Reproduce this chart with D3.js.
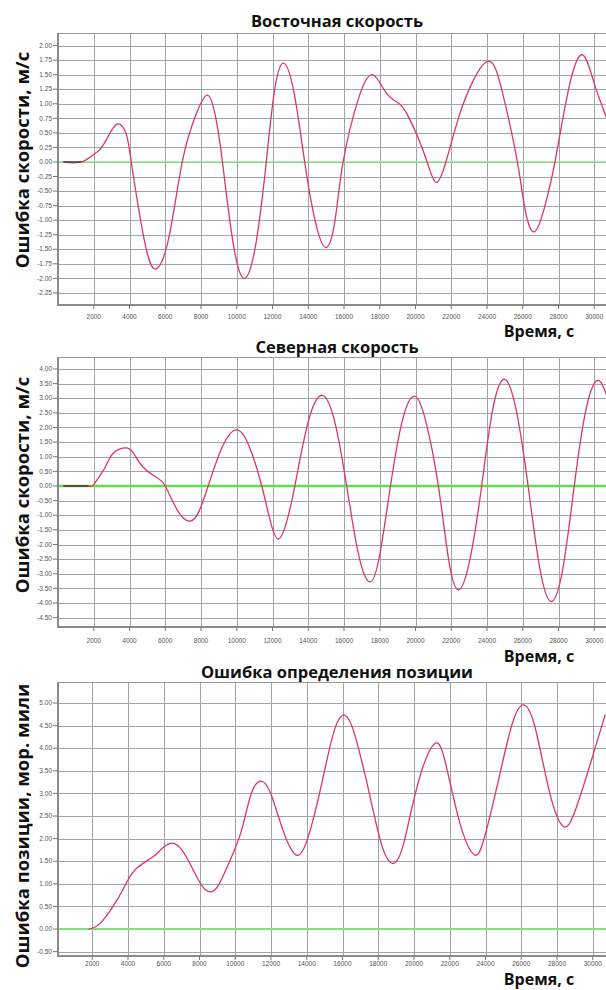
<!DOCTYPE html>
<html lang="ru">
<head>
<meta charset="utf-8">
<title>Ошибки</title>
<script src="https://cdn.jsdelivr.net/npm/d3@7"></script>
<style>
  body { margin: 0; background: #fff; }
  svg text { font-family: "Open Sans", "Liberation Sans", sans-serif; }
  .tick-label { font-family: "Liberation Sans", Arial, sans-serif !important; font-size: 6.5px; fill: #555; }
  .title { font-weight: 700; font-size: 16.5px; fill: #111; }
  .ylab { font-weight: 700; font-size: 18.5px; fill: #111; }
  .xlab { font-weight: 700; font-size: 16px; fill: #111; }
</style>
</head>
<body>
<script>

// ---- data ----
var xTicks = [2000, 4000, 6000, 8000, 10000, 12000, 14000, 16000, 18000, 20000, 22000, 24000, 26000, 28000, 30000];

// east velocity error, m/s
var eastT = [300, 1300, 2000, 2300, 2700, 3300, 3800, 4100, 4800, 5450, 6200, 6950, 7700, 8350, 8800, 9200, 9800, 10450, 11100, 11650, 12100, 12600, 13200, 13800, 14400, 15000, 15500, 15950, 16800, 17600, 18400, 19100, 19600, 20100, 20650, 21150, 21700, 22400, 23200, 24150, 24900, 25700, 26150, 26650, 27200, 27800, 28600, 29350, 30000, 30700];
var eastV = [0, 0, 0.13, 0.2, 0.38, 0.65, 0.5, 0, -1.3, -1.84, -1.3, 0, 0.8, 1.15, 0.8, 0, -1.4, -2.0, -1.35, 0, 1.2, 1.70, 1.2, 0, -1.03, -1.47, -1.0, 0, 1.08, 1.50, 1.17, 1.0, 0.78, 0.45, 0, -0.35, 0, 0.75, 1.38, 1.73, 1.15, 0, -0.85, -1.2, -0.8, 0, 1.3, 1.84, 1.35, 0.75];
var eastTicks = [2.00, 1.75, 1.50, 1.25, 1.00, 0.75, 0.50, 0.25, 0.00, -0.25, -0.50, -0.75, -1.00, -1.25, -1.50, -1.75, -2.00, -2.25];

// north velocity error, m/s
var northT = [300, 1700, 2000, 2600, 3100, 3850, 4300, 4750, 5500, 6000, 6700, 7400, 7900, 8400, 9200, 10000, 10700, 11400, 11900, 12350, 12800, 13250, 14000, 14800, 15500, 16150, 16800, 17450, 18000, 18600, 19250, 19950, 20600, 21280, 21850, 22400, 23050, 23700, 24300, 24970, 25650, 26300, 26950, 27600, 28250, 28880, 29500, 30150, 30700];
var northV = [0, 0, 0.05, 0.6, 1.13, 1.30, 1.05, 0.65, 0.3, 0, -0.85, -1.2, -0.85, 0, 1.35, 1.92, 1.35, 0, -1.25, -1.81, -1.2, 0, 2.2, 3.1, 2.15, 0, -2.3, -3.28, -2.35, 0, 2.2, 3.07, 2.15, 0, -2.5, -3.55, -2.5, 0, 2.55, 3.65, 2.55, 0, -2.8, -3.95, -2.8, 0, 2.5, 3.6, 3.1];
var northTicks = [4.00, 3.50, 3.00, 2.50, 2.00, 1.50, 1.00, 0.50, 0.00, -0.50, -1.00, -1.50, -2.00, -2.50, -3.00, -3.50, -4.00, -4.50];

// position error, nautical miles
var posT = [1800, 2200, 2700, 3400, 3950, 4500, 5400, 5900, 6450, 7100, 7850, 8300, 8650, 9100, 9850, 10400, 10900, 11450, 12000, 12700, 13450, 14100, 14800, 15500, 16100, 16700, 17500, 18200, 18800, 19400, 20200, 21150, 21800, 22600, 23350, 23900, 24700, 25500, 26150, 26800, 27600, 28350, 29000, 29900, 30700];
var posV = [0, 0.05, 0.24, 0.65, 1.05, 1.35, 1.6, 1.78, 1.9, 1.7, 1.15, 0.88, 0.82, 1.0, 1.65, 2.25, 3.0, 3.27, 2.98, 2.15, 1.63, 2.06, 3.15, 4.34, 4.73, 4.28, 3.0, 1.85, 1.45, 1.86, 3.19, 4.1, 3.61, 2.3, 1.65, 1.97, 3.25, 4.55, 4.96, 4.42, 3.0, 2.27, 2.6, 3.7, 4.75];
var posTicks = [5.00, 4.50, 4.00, 3.50, 3.00, 2.50, 2.00, 1.50, 1.00, 0.50, 0.00, -0.50];

var titles = ["Восточная скорость", "Северная скорость", "Ошибка определения позиции"];
var yLabels = ["Ошибка скорости, м/с", "Ошибка скорости, м/с", "Ошибка позиции, мор. мили"];
var xLabel = "Время, с";

// ---- layout ----
var svg = d3.select("body").append("svg")
    .attr("width", 606)
    .attr("height", 990);

var panels = [
  { t: eastT,  v: eastV,  ticks: eastTicks,  dom: [-2.457, 2.216], top: 33,  bottom: 305, x0: 58,   titleY: 27,  tickY: 319, xlabY: 337, ylabC: 160, green: "#8ee58e", gw: 1.3, idle: 1300 },
  { t: northT, v: northV, ticks: northTicks, dom: [-4.82, 4.41],   top: 357, bottom: 627, x0: 58,   titleY: 353, tickY: 643, xlabY: 662, ylabC: 485, green: "#5ee04a", gw: 2.4, idle: 1700 },
  { t: posT,   v: posV,   ticks: posTicks,   dom: [-0.597, 5.465], top: 682, bottom: 956, x0: 56.5, titleY: 678, tickY: 966, xlabY: 985, ylabC: 826, green: "#7fe27f", gw: 2,   idle: 0 }
];

var left = 59, right = 606;

panels.forEach(function(p, i) {

  var x = d3.scaleLinear().domain([0, 2000]).range([p.x0, p.x0 + 35.75]);
  var y = d3.scaleLinear().domain(p.dom).range([p.bottom, p.top]);

  var g = svg.append("g");

  // grid
  g.selectAll("line.hgrid")
    .data(p.ticks)
    .enter().append("line")
    .attr("x1", left).attr("x2", right)
    .attr("y1", function(d) { return Math.round(y(d)) + 0.5; })
    .attr("y2", function(d) { return Math.round(y(d)) + 0.5; })
    .attr("stroke", "#a3a3a3").attr("stroke-width", 1);

  g.selectAll("line.vgrid")
    .data(xTicks)
    .enter().append("line")
    .attr("x1", function(d) { return Math.round(x(d)) + 0.5; })
    .attr("x2", function(d) { return Math.round(x(d)) + 0.5; })
    .attr("y1", p.top).attr("y2", p.bottom)
    .attr("stroke", "#a3a3a3").attr("stroke-width", 1);

  // frame top + left axis
  g.append("line").attr("x1", left).attr("x2", right).attr("y1", p.top + 0.5).attr("y2", p.top + 0.5)
    .attr("stroke", "#999");
  g.append("line").attr("x1", left - 1).attr("x2", left - 1).attr("y1", p.top).attr("y2", p.bottom)
    .attr("stroke", "#8a8a8a").attr("stroke-width", 2);
  // bottom axis
  g.append("line").attr("x1", left - 2).attr("x2", right).attr("y1", p.bottom).attr("y2", p.bottom)
    .attr("stroke", "#8a8a8a").attr("stroke-width", 2);

  // y ticks
  g.selectAll("line.ytick")
    .data(p.ticks)
    .enter().append("line")
    .attr("x1", left - 6).attr("x2", left - 1)
    .attr("y1", function(d) { return y(d); }).attr("y2", function(d) { return y(d); })
    .attr("stroke", "#777");
  g.selectAll("text.ylab")
    .data(p.ticks)
    .enter().append("text")
    .attr("class", "tick-label")
    .attr("x", left - 7)
    .attr("y", function(d) { return y(d) + 2.2; })
    .attr("text-anchor", "end")
    .text(function(d) { return d3.format(".2f")(d).replace("−", "-"); });

  // x ticks
  g.selectAll("line.xtick")
    .data(xTicks)
    .enter().append("line")
    .attr("x1", function(d) { return x(d); }).attr("x2", function(d) { return x(d); })
    .attr("y1", p.bottom).attr("y2", p.bottom + 4)
    .attr("stroke", "#777");
  g.selectAll("text.xl")
    .data(xTicks)
    .enter().append("text")
    .attr("class", "tick-label")
    .attr("x", function(d) { return x(d); })
    .attr("y", p.tickY)
    .attr("text-anchor", "middle")
    .text(function(d) { return d; });

  // zero line
  g.append("line")
    .attr("x1", left).attr("x2", right)
    .attr("y1", y(0)).attr("y2", y(0))
    .attr("stroke", p.green).attr("stroke-width", p.gw);

  // curve
  var pts = p.t.map(function(t, k) { return [t, p.v[k]]; });
  var line = d3.line()
    .x(function(d) { return x(d[0]); })
    .y(function(d) { return y(d[1]); })
    .curve(d3.curveNatural);

  g.append("clipPath").attr("id", "clip" + i)
    .append("rect").attr("x", left).attr("y", p.top).attr("width", right - left).attr("height", p.bottom - p.top);

  g.append("path")
    .datum(pts)
    .attr("d", line)
    .attr("fill", "none")
    .attr("stroke", "#dc3763")
    .attr("stroke-width", 1.3)
    .attr("clip-path", "url(#clip" + i + ")");

  // dark flat start before the error grows
  if (p.idle) {
    g.append("path")
      .datum(pts.filter(function(d) { return d[0] <= p.idle; }))
      .attr("d", line.curve(d3.curveLinear))
      .attr("fill", "none")
      .attr("stroke", "#3a3a3a")
      .attr("stroke-width", 1.3);
  }

  // texts
  g.append("text").attr("class", "title")
    .attr("x", 337).attr("y", p.titleY)
    .attr("text-anchor", "middle")
    .text(titles[i]);

  g.append("text").attr("class", "ylab")
    .attr("transform", "translate(29," + p.ylabC + ") rotate(-90)")
    .attr("text-anchor", "middle")
    .text(yLabels[i]);

  g.append("text").attr("class", "xlab")
    .attr("x", 539).attr("y", p.xlabY)
    .attr("text-anchor", "middle")
    .text(xLabel);
});

</script>
</body>
</html>
